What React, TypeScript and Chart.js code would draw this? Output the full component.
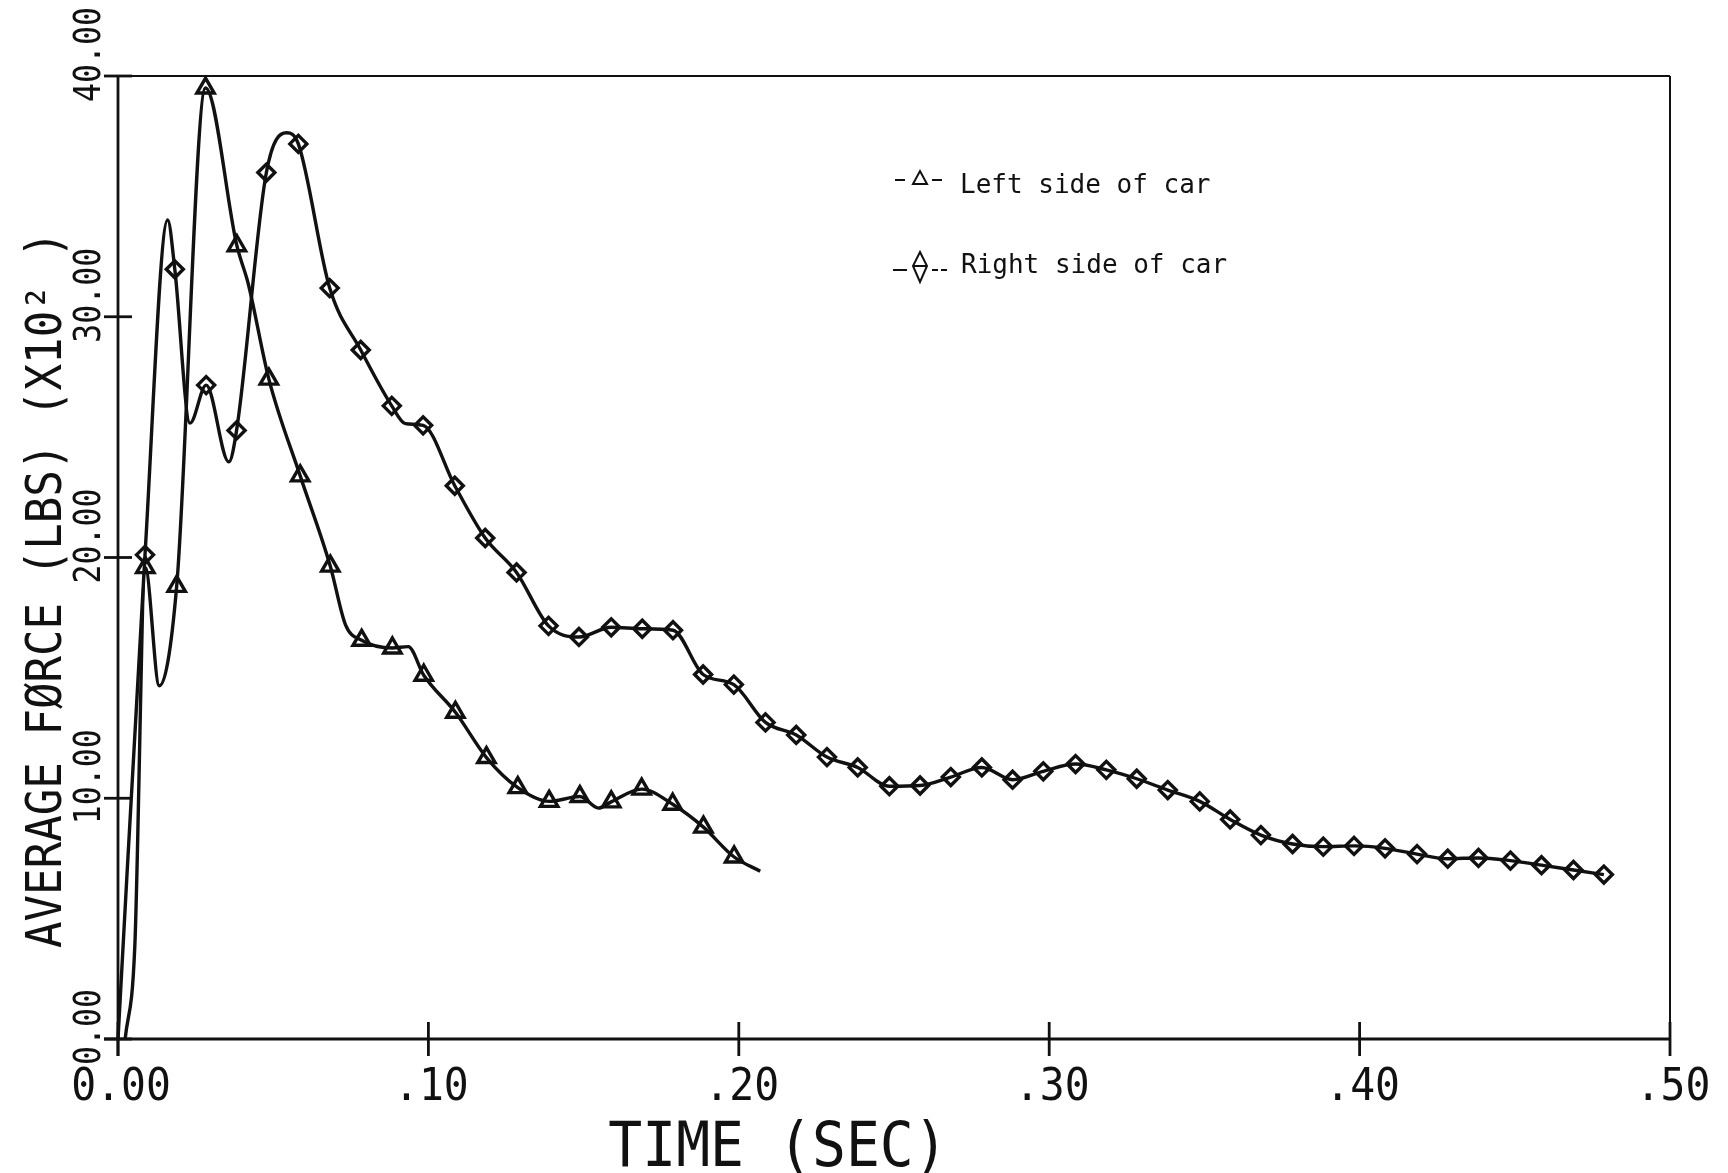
import React, { useEffect, useRef } from 'react';
import { Chart, registerables } from 'chart.js';

Chart.register(...registerables);

// ---- Data (time in seconds, force in lbs x 10^2) ----
// Left side of car (triangle markers); unmarked entries are curve knots between markers
const leftTime = [0.0023, 0.0054, 0.0088, 0.0133, 0.0189, 0.0282, 0.0383, 0.0420, 0.0486, 0.0587, 0.0684, 0.0733, 0.0785, 0.0884, 0.0935, 0.0985, 0.1087, 0.1187, 0.1288, 0.1389, 0.1488, 0.1548, 0.1589, 0.1687, 0.1787, 0.1886, 0.1985, 0.2069];
const leftForce = [0, 3.8, 19.58, 14.67, 18.8, 39.5, 32.95, 31.35, 27.41, 23.39, 19.64, 17.2, 16.56, 16.24, 16.3, 15.11, 13.57, 11.69, 10.44, 9.87, 10.07, 9.59, 9.85, 10.38, 9.75, 8.8, 7.56, 6.97];
const leftMarked = [0, 0, 1, 0, 1, 1, 1, 0, 1, 1, 1, 0, 1, 1, 0, 1, 1, 1, 1, 1, 1, 0, 1, 1, 1, 1, 1, 0];

// Right side of car (diamond markers)
const rightTime = [0, 0.0087, 0.016, 0.0183, 0.0232, 0.0284, 0.0357, 0.0382, 0.0478, 0.0543, 0.0581, 0.0682, 0.0782, 0.0882, 0.0926, 0.0983, 0.1085, 0.1183, 0.1284, 0.1387, 0.1485, 0.1589, 0.1689, 0.1788, 0.1885, 0.1984, 0.2086, 0.2185, 0.2284, 0.2383, 0.2485, 0.2584, 0.2683, 0.2783, 0.2882, 0.2981, 0.3085, 0.3184, 0.3282, 0.3382, 0.3485, 0.3583, 0.3682, 0.3784, 0.3883, 0.3982, 0.4082, 0.4185, 0.4284, 0.4383, 0.4486, 0.4586, 0.4689, 0.4787];
const rightForce = [0, 20.11, 34.02, 31.97, 25.58, 27.16, 23.97, 25.28, 35.99, 37.64, 37.18, 31.19, 28.62, 26.3, 25.56, 25.49, 22.98, 20.81, 19.38, 17.16, 16.7, 17.1, 17.04, 16.98, 15.14, 14.72, 13.15, 12.63, 11.71, 11.28, 10.5, 10.53, 10.88, 11.28, 10.77, 11.12, 11.42, 11.18, 10.81, 10.34, 9.87, 9.12, 8.47, 8.1, 7.99, 8.02, 7.92, 7.68, 7.49, 7.52, 7.41, 7.22, 7.02, 6.83];
const rightMarked = [0, 1, 0, 1, 0, 1, 0, 1, 1, 0, 1, 1, 1, 1, 0, 1, 1, 1, 1, 1, 1, 1, 1, 1, 1, 1, 1, 1, 1, 1, 1, 1, 1, 1, 1, 1, 1, 1, 1, 1, 1, 1, 1, 1, 1, 1, 1, 1, 1, 1, 1, 1, 1, 1];

const xTicks = [0, 0.1, 0.2, 0.3, 0.4, 0.5];
const xTickLabels = ['0.00', '.10', '.20', '.30', '.40', '.50'];
const yTicks = [0, 10, 20, 30, 40];
const yTickLabels = ['0.00', '10.00', '20.00', '30.00', '40.00'];
const xTitle = 'TIME (SEC)';
const yTitle = 'AVERAGE FØRCE (LBS) (X10² )';
const seriesNames = ['Left side of car', 'Right side of car'];

const INK = '#111111';
const MONO = '"DejaVu Sans Mono", "Liberation Mono", monospace';

function drawText(
  ctx: CanvasRenderingContext2D,
  text: string,
  x: number,
  y: number,
  size: number,
  sx: number,
  align: CanvasTextAlign,
  rotate: boolean
) {
  ctx.save();
  ctx.translate(x, y);
  if (rotate) ctx.rotate(-Math.PI / 2);
  ctx.scale(sx, 1);
  ctx.font = `${size}px ${MONO}`;
  ctx.fillStyle = INK;
  ctx.textAlign = align;
  ctx.textBaseline = 'alphabetic';
  ctx.fillText(text, 0, 0);
  ctx.restore();
}

function line(ctx: CanvasRenderingContext2D, x1: number, y1: number, x2: number, y2: number) {
  ctx.beginPath();
  ctx.moveTo(x1, y1);
  ctx.lineTo(x2, y2);
  ctx.stroke();
}

const plotterFrame = {
  id: 'plotterFrame',
  beforeDraw(chart: any) {
    const ctx = chart.ctx as CanvasRenderingContext2D;
    ctx.save();
    ctx.fillStyle = '#ffffff';
    ctx.fillRect(0, 0, chart.width, chart.height);
    ctx.restore();
  },
  beforeDatasetsDraw(chart: any) {
    const ctx = chart.ctx as CanvasRenderingContext2D;
    const { left, right, top, bottom } = chart.chartArea;
    const xs = chart.scales.x;
    const ys = chart.scales.y;
    ctx.save();
    ctx.strokeStyle = INK;
    ctx.lineCap = 'butt';
    // frame (top and right lighter)
    ctx.lineWidth = 2;
    line(ctx, left, top, right, top);
    line(ctx, right, top, right, bottom);
    // axes
    ctx.lineWidth = 2.8;
    line(ctx, left, top, left, bottom + 17);
    line(ctx, left - 14, bottom, right, bottom);
    // ticks crossing the axes
    yTicks.forEach((v) => {
      const py = ys.getPixelForValue(v);
      line(ctx, left - 14, py, left + 14, py);
    });
    xTicks.forEach((v) => {
      const px = xs.getPixelForValue(v);
      line(ctx, px, bottom - 17, px, bottom + 17);
    });
    ctx.restore();
  },
  afterDraw(chart: any) {
    const ctx = chart.ctx as CanvasRenderingContext2D;
    const { left, bottom } = chart.chartArea;
    const xs = chart.scales.x;
    const ys = chart.scales.y;

    // x tick labels
    xTicks.forEach((v, i) => {
      const px = xs.getPixelForValue(v);
      drawText(ctx, xTickLabels[i], px + 3, bottom + 61, 44, 0.94, 'center', false);
    });
    // y tick labels (rotated, reading upward, starting just below the tick)
    yTicks.forEach((v, i) => {
      const py = ys.getPixelForValue(v);
      drawText(ctx, yTickLabels[i], left - 18, py + 26, 38, 0.83, 'left', true);
    });
    // axis titles
    drawText(ctx, xTitle, 778, 1166, 63, 0.895, 'center', false);
    drawText(ctx, yTitle, 61, 948, 49, 0.9, 'left', true);

    // legend
    ctx.save();
    ctx.strokeStyle = INK;
    ctx.lineWidth = 2;
    // row 1: -Δ-
    line(ctx, 895, 180, 905, 180);
    ctx.beginPath();
    ctx.moveTo(913, 184);
    ctx.lineTo(920, 171);
    ctx.lineTo(927, 184);
    ctx.closePath();
    ctx.stroke();
    line(ctx, 932, 180, 942, 180);
    // row 2: -◊--
    line(ctx, 893, 270, 907, 270);
    ctx.beginPath();
    ctx.moveTo(920, 252);
    ctx.lineTo(927, 266);
    ctx.lineTo(920, 282);
    ctx.lineTo(913, 266);
    ctx.closePath();
    ctx.stroke();
    line(ctx, 913, 266, 927, 266);
    line(ctx, 932, 270, 938, 270);
    line(ctx, 941, 270, 947, 270);
    ctx.restore();
    drawText(ctx, seriesNames[0], 960, 193, 26, 1, 'left', false);
    drawText(ctx, seriesNames[1], 961, 273, 26, 1, 'left', false);
  },
};

export default function App() {
  const ref = useRef<HTMLCanvasElement | null>(null);

  useEffect(() => {
    const canvas = ref.current;
    if (!canvas) return;
    const leftData = leftTime.map((t, i) => ({ x: t, y: leftForce[i] }));
    const rightData = rightTime.map((t, i) => ({ x: t, y: rightForce[i] }));
    const chart = new Chart(canvas, {
      type: 'line',
      data: {
        datasets: [
          {
            label: seriesNames[0],
            data: leftData,
            borderColor: INK,
            borderWidth: 3.4,
            cubicInterpolationMode: 'monotone',
            pointStyle: 'triangle',
            pointRadius: leftMarked.map((m) => (m ? 10 : 0)),
            pointBorderWidth: 3.4,
            pointBorderColor: INK,
            pointBackgroundColor: 'rgba(255,255,255,0)',
            pointHitRadius: 0,
            clip: false,
          } as any,
          {
            label: seriesNames[1],
            data: rightData,
            borderColor: INK,
            borderWidth: 3.4,
            cubicInterpolationMode: 'monotone',
            pointStyle: 'rectRot',
            pointRadius: rightMarked.map((m) => (m ? 8.5 : 0)),
            pointBorderWidth: 3.4,
            pointBorderColor: INK,
            pointBackgroundColor: 'rgba(255,255,255,0)',
            pointHitRadius: 0,
            clip: false,
          } as any,
        ],
      },
      options: {
        responsive: false,
        animation: false,
        devicePixelRatio: 1,
        events: [],
        layout: { padding: { left: 118, top: 76, right: 58, bottom: 134 } },
        plugins: {
          legend: { display: false },
          tooltip: { enabled: false },
          title: { display: false },
        },
        scales: {
          x: { type: 'linear', min: 0, max: 0.5, display: false, ticks: { stepSize: 0.1 } },
          y: { type: 'linear', min: 0, max: 40, display: false, ticks: { stepSize: 10 } },
        },
      },
      plugins: [plotterFrame],
    });
    return () => chart.destroy();
  }, []);

  return (
    <div style={{ position: 'fixed', left: 0, top: 0, width: 1728, height: 1173, background: '#ffffff' }}>
      <canvas ref={ref} width={1728} height={1173} style={{ width: 1728, height: 1173, display: 'block' }} />
    </div>
  );
}
